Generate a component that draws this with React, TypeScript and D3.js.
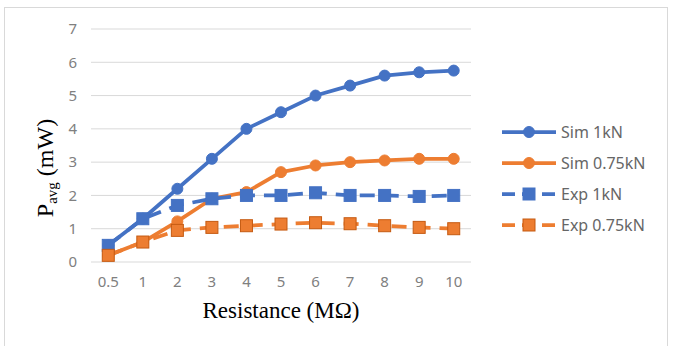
import { line, scaleBand, scaleLinear } from "d3";

// x categories (resistance in MΩ) and y ticks
const resistances = ["0.5", "1", "2", "3", "4", "5", "6", "7", "8", "9", "10"];
const yTicks = [0, 1, 2, 3, 4, 5, 6, 7];

// average power in mW
const sim1kN = [0.5, 1.3, 2.2, 3.1, 4.0, 4.5, 5.0, 5.3, 5.6, 5.7, 5.75];
const sim075kN = [0.2, 0.6, 1.22, 1.9, 2.1, 2.7, 2.9, 3.0, 3.05, 3.1, 3.1];
const exp1kN = [0.5, 1.3, 1.7, 1.9, 2.0, 2.0, 2.08, 2.0, 2.0, 1.97, 2.0];
const exp075kN = [0.2, 0.6, 0.95, 1.04, 1.09, 1.14, 1.18, 1.15, 1.09, 1.04, 1.0];

const seriesNames = ["Sim 1kN", "Sim 0.75kN", "Exp 1kN", "Exp 0.75kN"];

const BLUE = "#4472C4";
const ORANGE = "#ED7D31";

const series = [
  { name: seriesNames[0], values: sim1kN, color: BLUE, stroke: BLUE, dashed: false, marker: "circle" },
  { name: seriesNames[1], values: sim075kN, color: ORANGE, stroke: ORANGE, dashed: false, marker: "circle" },
  { name: seriesNames[2], values: exp1kN, color: BLUE, stroke: BLUE, dashed: true, marker: "square" },
  { name: seriesNames[3], values: exp075kN, color: ORANGE, stroke: "#C55A11", dashed: true, marker: "square" },
];

const width = 677;
const height = 346;
const tickFont = "'Noto Sans', sans-serif";
const tickColor = "#808080";
const dash = "15 9";

const Marker = ({ type, x, y, fill, stroke }) =>
  type === "circle" ? (
    <circle cx={x} cy={y} r={5.5} fill={fill} stroke={fill} strokeWidth={1} />
  ) : (
    <rect x={x - 6} y={y - 6} width={12} height={12} fill={fill} stroke={stroke} strokeWidth={1} />
  );

const App = () => {
  const xScale = scaleBand().domain(resistances).range([91, 471]);
  const yScale = scaleLinear().domain([0, 7]).range([262, 29]);
  const cx = (c) => xScale(c) + xScale.bandwidth() / 2;

  const path = line()
    .x((d, i) => cx(resistances[i]))
    .y((d) => yScale(d));

  return (
    <svg
      width={width}
      height={height}
      style={{ position: "absolute", left: 0, top: 0, background: "#fff" }}
    >
      <rect x={4.5} y={7.5} width={663} height={400} fill="#fff" stroke="#d9d9d9" />

      {/* gridlines and y tick labels */}
      {yTicks.map((t) => (
        <g key={t}>
          <line x1={91} x2={471} y1={yScale(t)} y2={yScale(t)} stroke="#d9d9d9" strokeWidth={1} />
          <text
            x={77}
            y={yScale(t)}
            dy="0.35em"
            textAnchor="end"
            fontFamily={tickFont}
            fontSize={15}
            fill={tickColor}
          >
            {t}
          </text>
        </g>
      ))}

      {/* x tick labels */}
      {resistances.map((c) => (
        <text
          key={c}
          x={cx(c)}
          y={287}
          textAnchor="middle"
          fontFamily={tickFont}
          fontSize={15}
          fill={tickColor}
        >
          {c}
        </text>
      ))}

      {/* series */}
      {series.map((s) => (
        <g key={s.name}>
          <path
            d={path(s.values)}
            fill="none"
            stroke={s.color}
            strokeWidth={3.75}
            strokeLinejoin="round"
            strokeDasharray={s.dashed ? dash : null}
          />
          {s.values.map((v, i) => (
            <Marker
              key={i}
              type={s.marker}
              x={cx(resistances[i])}
              y={yScale(v)}
              fill={s.color}
              stroke={s.stroke}
            />
          ))}
        </g>
      ))}

      {/* axis titles */}
      <text
        x={281}
        y={318}
        textAnchor="middle"
        fontFamily="'Liberation Serif', serif"
        fontSize={23}
        fill="#000"
      >
        Resistance (MΩ)
      </text>
      <text
        transform="translate(53,168) rotate(-90)"
        textAnchor="middle"
        fontFamily="'Liberation Serif', serif"
        fontSize={24}
        fill="#000"
      >
        P<tspan fontSize={15} dy={4}>avg</tspan>
        <tspan dy={-4}> (mW)</tspan>
      </text>

      {/* legend */}
      {series.map((s, i) => {
        const y = 132 + i * 31;
        return (
          <g key={s.name}>
            <line
              x1={502}
              x2={556}
              y1={y}
              y2={y}
              stroke={s.color}
              strokeWidth={3.75}
              strokeDasharray={s.dashed ? "13 7" : null}
            />
            <Marker type={s.marker} x={529} y={y} fill={s.color} stroke={s.stroke} />
            <text
              x={561}
              y={y}
              dy="0.35em"
              fontFamily={tickFont}
              fontSize={16}
              fill="#666"
            >
              {s.name}
            </text>
          </g>
        );
      })}
    </svg>
  );
};

export default App;
